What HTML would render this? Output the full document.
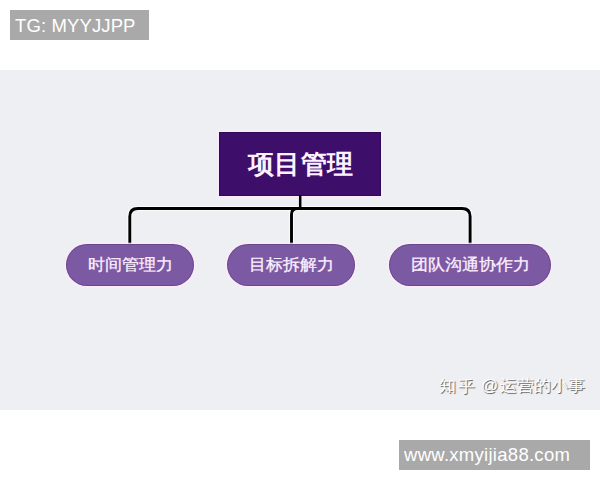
<!DOCTYPE html>
<html><head><meta charset="utf-8">
<style>
html,body{margin:0;padding:0;width:600px;height:480px;overflow:hidden;background:#fff;font-family:"Liberation Sans",sans-serif;}
.abs{position:absolute;}
#tg{left:10px;top:10px;width:139px;height:30px;background:#a9a9a9;color:#fff;font-size:18.5px;line-height:30px;}
#tg span{position:absolute;left:5px;top:1px;letter-spacing:0.12px;white-space:nowrap;}
#panel{left:0;top:70px;width:600px;height:340px;background:#eeeff2;}
#title{left:219px;top:132px;width:162px;height:64px;background:#3e0e6b;box-shadow:0 0 0 1px rgba(255,232,255,0.9),inset 0 0 0 1px rgba(30,0,50,0.35);}
#title span{position:absolute;left:28.5px;top:-0.5px;color:#fdf2ff;font-size:26px;font-weight:bold;letter-spacing:0.5px;line-height:64px;white-space:nowrap;}
.pill{height:42px;border-radius:21px;background:#7c59a3;box-shadow:0 0 0 1px rgba(255,232,255,0.8),0 0 0 2px rgba(255,240,255,0.25),inset 0 0 0 1px rgba(40,10,70,0.22);}
.pill span{position:absolute;top:0.3px;transform:scaleY(0.94);transform-origin:50% 50%;color:#fdf0ff;font-size:17px;line-height:42px;white-space:nowrap;-webkit-text-stroke:0.3px #fdf0ff;}
#p1{left:66px;top:244px;width:128px;}
#p1 span{left:21.5px;}
#p2{left:227px;top:244px;width:128px;}
#p2 span{left:22px;}
#p3{left:389px;top:244px;width:162px;}
#p3 span{left:22px;}
.wm{position:absolute;top:376px;color:#fff;font-size:17px;line-height:20px;text-shadow:1px 1px 0.7px rgba(0,0,0,0.6);transform:scaleY(0.94);transform-origin:50% 85%;white-space:nowrap;}
#www{left:399px;top:440px;width:191px;height:30px;background:#a9a9a9;color:#fff;font-size:18.5px;line-height:30px;}
#www span{position:absolute;left:5px;top:0;letter-spacing:0.28px;white-space:nowrap;}
svg{position:absolute;left:0;top:0;}
</style></head><body>
<div id="tg" class="abs"><span>TG: MYYJJPP</span></div>
<div id="panel" class="abs"></div>
<div id="title" class="abs"><span>项目管理</span></div>
<svg width="600" height="480">
<path d="M129.8 245 V216.5 Q129.8 208.5 137.8 208.5 H462.1 Q470.1 208.5 470.1 216.5 V245 M291.5 245 V214.5 Q291.5 208.5 297.5 208.5" fill="none" stroke="rgba(255,255,255,0.75)" stroke-width="5"/>
<path d="M129.8 245 V216.5 Q129.8 208.5 137.8 208.5 H462.1 Q470.1 208.5 470.1 216.5 V245 M291.5 245 V214.5 Q291.5 208.5 297.5 208.5" fill="none" stroke="#000" stroke-width="2.9"/>
<path d="M300.2 195 V208.5" fill="none" stroke="#000" stroke-width="2.5"/>
</svg>
<div id="p1" class="abs pill"><span>时间管理力</span></div>
<div id="p2" class="abs pill"><span>目标拆解力</span></div>
<div id="p3" class="abs pill"><span>团队沟通协作力</span></div>
<div class="wm" style="left:438.5px">知</div><div class="wm" style="left:458px;font-size:17.5px">乎</div>
<div class="wm" style="left:481px">@</div>
<div class="wm" style="left:499.5px">运营的小事</div>
<div id="www" class="abs"><span>www.xmyijia88.com</span></div>
</body></html>
